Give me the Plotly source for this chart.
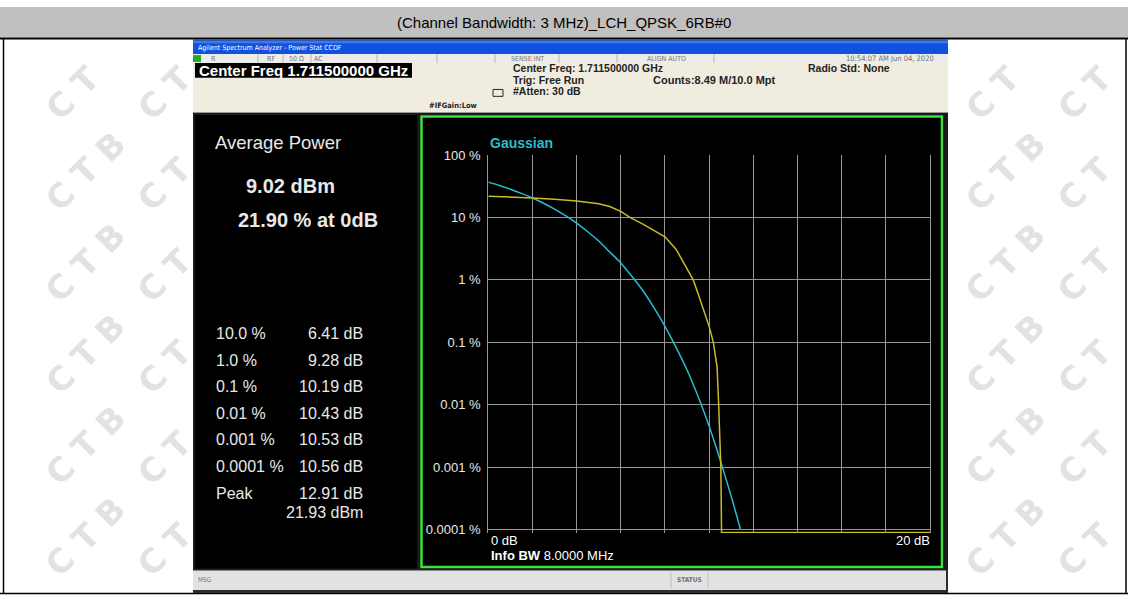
import plotly.graph_objects as go

W, H = 1128, 599

# ---------------- data ----------------
chart_title = "(Channel Bandwidth: 3 MHz)_LCH_QPSK_6RB#0"

# Gaussian reference curve (cyan): dB above average power -> probability (%)
gauss_db = [0, 0.5, 1, 1.5, 2, 2.5, 3, 3.5, 4, 4.5, 5, 5.5, 6, 6.5, 7, 7.5,
            8, 8.5, 9, 9.5, 10, 10.5, 11, 11.42]
gauss_pct = [36.8, 32.6, 28.4, 24.3, 20.5, 16.9, 13.6, 10.7, 8.1, 5.9, 4.2,
             2.8, 1.87, 1.14, 0.67, 0.36, 0.18, 0.083, 0.036, 0.0135, 0.0045,
             0.0013, 0.00034, 0.0001]

# Measured CCDF (yellow)
meas_db = [0, 1, 2, 3, 4, 5, 5.5, 6, 6.41, 7, 7.5, 8, 8.5, 9, 9.28, 9.5,
           9.8, 10.0, 10.19, 10.36, 10.43, 10.53, 10.56, 10.56, 20]
meas_pct = [21.9, 21.3, 20.6, 19.6, 18.4, 16.6, 15.0, 12.5, 10.0, 7.8, 6.2,
            4.9, 3.1, 1.45, 1.0, 0.6, 0.3, 0.18, 0.1, 0.04, 0.01, 0.001,
            0.0001, 0.00009, 0.00009]

ytick_vals = [100, 10, 1, 0.1, 0.01, 0.001, 0.0001]
ytick_text = ["100 %", "10 %", "1 %", "0.1 %", "0.01 %", "0.001 %", "0.0001 %"]
x_min_label, x_max_label = "0 dB", "20 dB"

avg_label = "Average Power"
avg_power = "9.02 dBm"
pct_at_0db = "21.90 % at 0dB"
ccdf_levels = ["10.0 %", "1.0 %", "0.1 %", "0.01 %", "0.001 %", "0.0001 %", "Peak"]
ccdf_values = ["6.41 dB", "9.28 dB", "10.19 dB", "10.43 dB", "10.53 dB", "10.56 dB", "12.91 dB"]
peak_dbm = "21.93 dBm"

# ---------------- styling ----------------
FONT = "Arial, Liberation Sans, sans-serif"
NARROW = "Liberation Sans Narrow, Arial Narrow, DejaVu Sans Condensed, Arial, sans-serif"
GRID = "rgb(150,150,150)"
CYAN = "rgb(40,190,205)"
YELLOW = "rgb(200,188,40)"
PANEL_TXT = "rgb(232,232,232)"
INFO_TXT = "rgb(35,35,35)"


def px(x):
    return x / W


def py(y):
    return 1 - y / H


shapes = []
annotations = []


def rect(x0, y0, x1, y1, fill=None, line=None, lw=0, layer="below"):
    shapes.append(dict(type="rect", xref="paper", yref="paper",
                       x0=px(x0), x1=px(x1), y0=py(y1), y1=py(y0),
                       fillcolor=fill or "rgba(0,0,0,0)",
                       line=dict(color=line or "rgba(0,0,0,0)", width=lw),
                       layer=layer))


def seg(x0, y0, x1, y1, color, lw=1):
    shapes.append(dict(type="line", xref="paper", yref="paper",
                       x0=px(x0), x1=px(x1), y0=py(y0), y1=py(y1),
                       line=dict(color=color, width=lw), layer="below"))


def text(x, y, s, size, color, anchor="left", bold=False, family=FONT, angle=0):
    annotations.append(dict(xref="paper", yref="paper", x=px(x), y=py(y),
                            text=f"<b>{s}</b>" if bold else s, showarrow=False,
                            xanchor=anchor, yanchor="middle", textangle=angle,
                            borderpad=0,
                            font=dict(size=size, color=color, family=family)))


# ---------------- page / table frame ----------------
rect(0, 0, W, 31, fill="rgb(192,192,192)")
seg(0, 32, W, 32, "black", 2)
seg(3.5, 32, 3.5, 598, "black", 1.5)
seg(1126, 32, 1126, 598, "black", 1.5)
seg(0, 597.5, W, 597.5, "black", 1.5)
text(W / 2, 16, chart_title, 15, "black", anchor="center")

# watermark "CTB" letters in the white margins
for i in range(-1, 14):
    for j in range(0, 7):
        cx = -7 + 92 * i
        cy = 75 + 93 * j
        for k, ch in enumerate("CTB"):
            lx = cx + (k - 1) * 25
            ly = cy - (k - 1) * 25
            if ly < 52 or ly > 576 or lx < 24 or lx > W - 26:
                continue
            if lx < 180 or lx > 962:
                text(lx, ly, ch, 33, "rgb(226,226,226)", anchor="center",
                     bold=True, family="DejaVu Sans, Arial", angle=-45)

# ---------------- instrument screenshot ----------------
rect(193, 33, 948, 597, fill="rgb(45,45,45)")
rect(193, 34, 948, 48, fill="rgb(18,80,222)")
rect(193, 34, 948, 37, fill="rgb(60,120,240)")
text(197, 41.5, "Agilent Spectrum Analyzer - Power Stat CCDF", 7, "white", family=NARROW)

# status row
rect(193, 48, 948, 57, fill="rgb(236,236,232)")
rect(193, 49, 201, 56, fill="rgb(40,170,40)")
for xd in [258, 283, 311, 377, 437, 495, 559, 617, 714]:
    seg(xd, 48, xd, 57, "rgb(185,185,185)", 1)
status_items = [(210, "R"), (266, "RF"), (288, "50 Ω"), (313, "AC"),
                (510, "SENSE:INT"), (646, "ALIGN AUTO")]
for xs, s in status_items:
    text(xs, 52.5, s, 7, "rgb(120,120,120)", family=NARROW)
text(935, 52.5, "10:54:07 AM Jun 04, 2020", 7.5, "rgb(110,110,110)", anchor="right", family=NARROW)

# info area
rect(193, 57, 948, 108, fill="rgb(240,236,224)")
rect(195, 57, 412, 72, fill="black")
text(198, 65, "Center Freq 1.711500000 GHz", 15, "white", bold=True)
text(512, 62, "Center Freq: 1.711500000 GHz", 10.5, INFO_TXT, bold=True)
text(512, 74, "Trig: Free Run", 10.5, INFO_TXT, bold=True)
text(512, 86, "#Atten: 30 dB", 10.5, INFO_TXT, bold=True)
text(652, 74, "Counts:8.49 M/10.0 Mpt", 11, INFO_TXT, bold=True)
text(807, 62, "Radio Std: None", 10.5, INFO_TXT, bold=True)
text(428, 100, "#IFGain:Low", 7.5, INFO_TXT, bold=True, family=NARROW)
rect(493, 84, 503, 91, line="rgb(40,40,40)", lw=1)
seg(193, 107.5, 948, 107.5, "rgb(150,150,150)", 1)

# black panels
rect(193, 108, 948, 573, fill="rgb(25,25,25)")
rect(195, 110, 417, 572, fill="black")
rect(420, 110, 944, 572, fill="black")
rect(421.5, 111.5, 942, 570.5, line="rgb(60,225,60)", lw=2.5)

# bottom status bar
rect(193, 574, 946, 594, fill="rgb(226,226,226)")
seg(671, 576, 671, 592, "rgb(190,190,190)", 1)
seg(708, 576, 708, 592, "rgb(190,190,190)", 1)
text(197, 584, "MSG", 6.5, "rgb(120,120,120)", family=NARROW)
text(689.5, 584, "STATUS", 6.5, "rgb(110,110,110)", anchor="center", bold=True, family=NARROW)

# left readout panel
text(214, 138, avg_label, 18.5, PANEL_TXT)
text(245, 182, avg_power, 20, PANEL_TXT, bold=True)
text(237, 217, pct_at_0db, 20, PANEL_TXT, bold=True)
row_y = [333, 360, 387, 414, 441, 468, 496]
for yy, lab, val in zip(row_y, ccdf_levels, ccdf_values):
    text(215, yy, lab, 16, PANEL_TXT)
    text(364, yy, val, 16, PANEL_TXT, anchor="right")
text(364, 515, peak_dbm, 16, PANEL_TXT, anchor="right")

# plot annotations
text(489, 139, "Gaussian", 14, CYAN, bold=True)
text(490, 543, x_min_label, 13, "white")
text(931, 543, x_max_label, 13, "white", anchor="right")
text(490, 558.5, "<b>Info BW</b> 8.0000 MHz", 13, "white")

# ---------------- chart ----------------
fig = go.Figure()
fig.add_trace(go.Scatter(x=gauss_db, y=gauss_pct, mode="lines",
                         line=dict(color=CYAN, width=1.5, shape="spline", smoothing=0.6),
                         hoverinfo="skip", name="Gaussian"))
fig.add_trace(go.Scatter(x=meas_db, y=meas_pct, mode="lines",
                         line=dict(color=YELLOW, width=1.5),
                         hoverinfo="skip", name="Measured"))

y_top, y_bot = 150.7, 536.0
fig.update_layout(
    width=W, height=H,
    margin=dict(l=0, r=0, t=0, b=0),
    paper_bgcolor="white", plot_bgcolor="black",
    showlegend=False,
    shapes=shapes, annotations=annotations,
    xaxis=dict(domain=[px(488.3), px(930)], range=[0, 20], tick0=0, dtick=2,
               showgrid=True, gridcolor=GRID, gridwidth=1, showticklabels=False,
               zeroline=False, showline=False, ticks="", fixedrange=True),
    yaxis=dict(domain=[py(y_bot), py(y_top)], type="log",
               range=[-4 - (y_bot - 532.3) / 63.6, 2.002],
               tickvals=ytick_vals, ticktext=ytick_text,
               showgrid=True, gridcolor=GRID, gridwidth=1,
               showline=True, linecolor=GRID, linewidth=1, mirror=True,
               ticks="", ticklabelstandoff=4, zeroline=False, fixedrange=True,
               tickfont=dict(size=13, color=PANEL_TXT, family=FONT)),
)

fig.write_html(
    "out.html",
    config={"displayModeBar": False},
    post_script="document.body.style.margin='0';document.body.style.padding='0';"
                "document.body.style.overflow='hidden';",
)
